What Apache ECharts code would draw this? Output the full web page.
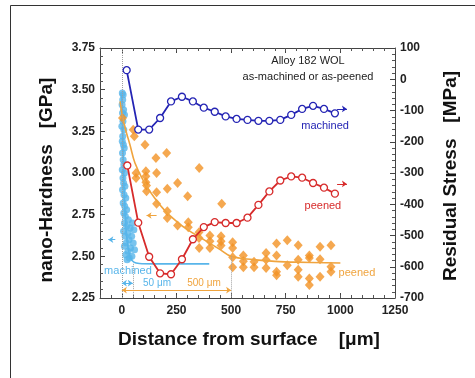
<!DOCTYPE html>
<html><head><meta charset="utf-8">
<script src="https://cdn.jsdelivr.net/npm/echarts@6/dist/echarts.min.js"></script>
<style>html,body{margin:0;padding:0;background:#fff}#c{width:475px;height:378px}</style>
</head><body><div id="c"></div>
<script>
// ---- data ----
var xTicks = [0, 250, 500, 750, 1000, 1250];
var machinedStressX = [22, 75, 125, 175, 225, 275, 325, 375, 425, 475, 525, 575, 625, 675, 725, 775, 825, 875, 925, 975];
var machinedStress = [29, -161, -161, -124, -71, -56, -71, -91, -104, -119, -127, -130, -133, -133, -130, -114, -95, -85, -95, -109];
var peenedStressX = [25, 75, 125, 175, 225, 275, 325, 375, 425, 475, 525, 575, 625, 675, 725, 775, 825, 875, 925, 975];
var peenedStress = [-276, -459, -568, -621, -624, -576, -512, -473, -457, -460, -460, -443, -402, -359, -324, -311, -315, -332, -347, -366];
var peenedHardness = [
 [3,3.33],[52,3.26],[57,3.22],[106,3.17],[156,3.09],[205,3.12],[354,3.03],
 [65,3.00],[65,2.97],[110,3.01],[110,2.98],[110,2.945],[159,3.00],[113,2.925],[113,2.89],[159,2.885],
 [208,2.905],[255,2.94],[301,2.86],[159,2.815],[208,2.77],[208,2.73],[255,2.685],[304,2.705],[304,2.675],
 [353,2.645],[353,2.61],[403,2.625],[403,2.59],[354,2.55],[403,2.55],[454,2.62],[454,2.59],[454,2.565],
 [457,2.815],[507,2.585],[507,2.55],[507,2.495],[507,2.435],[556,2.505],[556,2.47],[556,2.435],[605,2.467],[605,2.435],
 [660,2.52],[660,2.48],[660,2.43],[708,2.577],[708,2.505],[708,2.407],[708,2.387],[757,2.597],[757,2.447],
 [807,2.567],[807,2.48],[807,2.42],[807,2.377],[858,2.505],[858,2.49],[858,2.367],[858,2.328],
 [907,2.557],[907,2.483],[907,2.377],[957,2.567],[957,2.437],[957,2.407]
];
var machinedHardness = [
 [2,3.48],[6,3.47],[4,3.44],[1,3.41],[8,3.38],[3,3.36],[12,3.35],[5,3.31],[0,3.28],[9,3.26],[4,3.22],[2,3.19],
 [7,3.17],[11,3.15],[3,3.12],[6,3.08],[9,3.05],[2,3.02],[12,3.0],[5,2.97],[8,2.94],[14,2.92],[3,2.9],[10,2.87],
 [18,2.85],[6,2.82],[13,2.8],[22,2.78],[9,2.76],[16,2.74],[30,2.72],[12,2.7],[22,2.68],[38,2.67],[8,2.65],
 [28,2.64],[15,2.62],[45,2.62],[33,2.6],[20,2.58],[52,2.58],[12,2.56],[40,2.55],[28,2.53],[58,2.54],[18,2.51],
 [46,2.5],[34,2.49],[24,2.48],[55,2.66],[48,2.7]
];
var peenedFitX = [-8, 0, 15, 37, 60, 100, 150, 200, 250, 300, 375, 450, 500, 600, 700, 800, 1000];
var peenedFit = [3.43, 3.36, 3.27, 3.17, 3.06, 2.95, 2.85, 2.77, 2.71, 2.66, 2.60, 2.54, 2.50, 2.48, 2.47, 2.465, 2.46];
var machinedFitX = [0, 3, 6, 10, 15, 22, 30, 40, 55, 80, 150, 400];
var machinedFit = [3.47, 3.3, 3.1, 2.9, 2.75, 2.62, 2.54, 2.49, 2.465, 2.457, 2.455, 2.455];

function pairs(xs, ys){ return xs.map(function(x,i){ return [x, ys[i]]; }); }

var BLUE='#2424b4', RED='#d72b2b', ORANGE='#f39224', ORANGE_L='#f0a43e', LBLUE='#58b5ea';
var tickFont = {fontFamily:'Liberation Sans, Arial, sans-serif', fontWeight:'bold', fontSize:12, color:'#222'};
var axLine = {show:true, onZero:false, lineStyle:{color:'#444', width:1}};

var chart = echarts.init(document.getElementById('c'), null, {renderer:'canvas'});
var baseX = {type:'value', min:-100, max:1250, splitLine:{show:false}, axisLine:axLine};
var option = {
  animation:false,
  grid:{left:100, right:80, top:48, bottom:80},
  xAxis:[
    Object.assign({}, baseX, {position:'bottom', axisTick:{show:true, inside:true, length:5, customValues:xTicks, lineStyle:{color:'#444'}},
      axisLabel:Object.assign({show:true, margin:7, customValues:xTicks, formatter:function(v){return String(v);}}, tickFont)}),
    Object.assign({}, baseX, {position:'bottom', interval:50, axisLine:{show:false, onZero:false}, axisTick:{show:true, inside:true, length:3, lineStyle:{color:'#555'}}, axisLabel:{show:false}}),
    Object.assign({}, baseX, {position:'top', axisTick:{show:true, inside:true, length:5, customValues:xTicks, lineStyle:{color:'#444'}}, axisLabel:{show:false}}),
    Object.assign({}, baseX, {position:'top', interval:50, axisLine:{show:false, onZero:false}, axisTick:{show:true, inside:true, length:3, lineStyle:{color:'#555'}}, axisLabel:{show:false}})
  ],
  yAxis:[
    {type:'value', position:'left', min:2.25, max:3.75, interval:0.25, splitLine:{show:false}, axisLine:axLine,
     axisTick:{show:true, inside:true, length:5, lineStyle:{color:'#444'}},
     minorTick:{show:true, splitNumber:5, length:3, lineStyle:{color:'#555'}},
     axisLabel:Object.assign({margin:5, formatter:function(v){return v.toFixed(2);}}, tickFont)},
    {type:'value', position:'right', min:-700, max:100, interval:100, splitLine:{show:false}, axisLine:axLine,
     axisTick:{show:true, inside:true, length:5, lineStyle:{color:'#444'}},
     minorTick:{show:true, splitNumber:5, length:3, lineStyle:{color:'#555'}},
     axisLabel:Object.assign({margin:5, formatter:function(v){return String(v);}}, tickFont)}
  ],
  series:[
    {type:'line', name:'guides', yAxisIndex:0, data:[], silent:true,
     markLine:{silent:true, symbol:'none', animation:false, label:{show:false},
       lineStyle:{type:'dotted', color:'#a0a0a0', width:1},
       data:[
         {xAxis:0},
         [{coord:[50,2.455]},{coord:[50,2.25]}],
         [{coord:[500,2.50]},{coord:[500,2.25]}],
         [{coord:[0,2.339], symbol:'arrow', lineStyle:{type:'solid', color:LBLUE, width:1}},{coord:[50,2.339], symbol:'arrow'}],
         [{coord:[0,2.297], symbol:'arrow', lineStyle:{type:'solid', color:ORANGE_L, width:1}},{coord:[500,2.297], symbol:'arrow'}],
         [{coord:[-30,2.60], symbol:'none', lineStyle:{type:'solid', color:LBLUE, width:1}},{coord:[-62,2.60], symbol:'arrow'}],
         [{coord:[159,2.745], symbol:'none', lineStyle:{type:'solid', color:ORANGE_L, width:1}},{coord:[113,2.745], symbol:'arrow'}]
       ], symbolSize:5},
     markPoint:{silent:true, symbol:'rect', symbolSize:1, itemStyle:{color:'rgba(0,0,0,0)'},
       data:[
         {coord:[28,2.411], label:{show:true, position:'inside', formatter:'machined', color:LBLUE, fontSize:11, fontFamily:'Liberation Sans, Arial'}},
         {coord:[161,2.339], label:{show:true, position:'inside', formatter:'50 μm', color:LBLUE, fontSize:10, fontFamily:'Liberation Sans, Arial'}},
         {coord:[376,2.339], label:{show:true, position:'inside', formatter:'500 μm', color:ORANGE_L, fontSize:10, fontFamily:'Liberation Sans, Arial'}},
         {coord:[1076,2.40], label:{show:true, position:'inside', formatter:'peened', color:ORANGE_L, fontSize:11, fontFamily:'Liberation Sans, Arial'}}
       ]}
    },
    {type:'line', name:'guides2', yAxisIndex:1, data:[], silent:true,
     markLine:{silent:true, symbol:'none', symbolSize:5, label:{show:false},
       data:[
         [{coord:[985,-95], symbol:'none', lineStyle:{type:'solid', color:BLUE, width:1}},{coord:[1030,-95], symbol:'arrow'}],
         [{coord:[985,-335], symbol:'none', lineStyle:{type:'solid', color:RED, width:1}},{coord:[1030,-335], symbol:'arrow'}]
       ]},
     markPoint:{silent:true, symbol:'rect', symbolSize:1, itemStyle:{color:'rgba(0,0,0,0)'},
       data:[
         {coord:[930,-149], label:{show:true, position:'inside', formatter:'machined', color:BLUE, fontSize:11, fontFamily:'Liberation Sans, Arial'}},
         {coord:[920,-404], label:{show:true, position:'inside', formatter:'peened', color:RED, fontSize:11, fontFamily:'Liberation Sans, Arial'}}
       ]}
    },
    {type:'scatter', name:'machined hardness', yAxisIndex:0, data:machinedHardness, symbol:'circle', symbolSize:7,
     itemStyle:{color:LBLUE}, z:3},
    {type:'line', name:'machined fit', yAxisIndex:0, data:pairs(machinedFitX, machinedFit), smooth:0.3, showSymbol:false, symbol:'none',
     lineStyle:{color:LBLUE, width:1.6}, z:3},
    {type:'scatter', name:'peened hardness', yAxisIndex:0, data:peenedHardness, symbol:'diamond', symbolSize:[9,10],
     itemStyle:{color:ORANGE}, z:3},
    {type:'line', name:'peened fit', yAxisIndex:0, data:pairs(peenedFitX, peenedFit), smooth:0.4, showSymbol:false, symbol:'none',
     lineStyle:{color:ORANGE_L, width:1.6}, z:4},
    {type:'line', name:'peened stress', yAxisIndex:1, data:pairs(peenedStressX, peenedStress), symbol:'circle', symbolSize:7,
     lineStyle:{color:RED, width:1.8}, itemStyle:{color:'#fff', borderColor:RED, borderWidth:1.3}, z:5},
    {type:'line', name:'machined stress', yAxisIndex:1, data:pairs(machinedStressX, machinedStress), symbol:'circle', symbolSize:7,
     lineStyle:{color:BLUE, width:1.8}, itemStyle:{color:'#fff', borderColor:BLUE, borderWidth:1.3}, z:5}
  ],
  graphic:[
    {type:'line', shape:{x1:10.5, y1:5.5, x2:475, y2:5.5}, style:{stroke:'#333', lineWidth:1}},
    {type:'line', shape:{x1:10.5, y1:5.5, x2:10.5, y2:378}, style:{stroke:'#333', lineWidth:1}},
    {type:'text', x:308, y:61, style:{text:'Alloy 182 WOL', align:'center', verticalAlign:'middle', font:'11px "Liberation Sans", Arial', fill:'#222'}},
    {type:'text', x:308, y:77, style:{text:'as-machined or as-peened', align:'center', verticalAlign:'middle', font:'11px "Liberation Sans", Arial', fill:'#222'}},
    {type:'text', x:249, y:340, style:{text:'Distance from surface    [μm]', align:'center', verticalAlign:'middle', font:'bold 19px "Liberation Sans", Arial', fill:'#111'}},
    {type:'text', x:47, y:180, rotation:Math.PI/2, style:{text:'nano-Hardness   [GPa]', align:'center', verticalAlign:'middle', font:'bold 19px "Liberation Sans", Arial', fill:'#111'}},
    {type:'text', x:451, y:176, rotation:Math.PI/2, style:{text:'Residual Stress   [MPa]', align:'center', verticalAlign:'middle', font:'bold 19px "Liberation Sans", Arial', fill:'#111'}}
  ]
};
chart.setOption(option);
</script></body></html>
